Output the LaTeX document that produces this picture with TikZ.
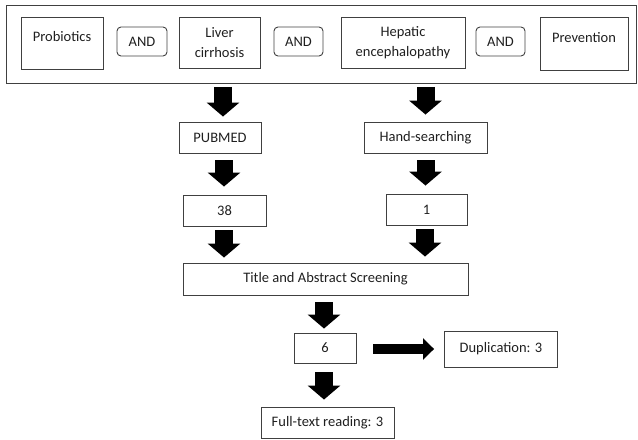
\documentclass[tikz,border=0pt]{standalone}
\usepackage{fontspec}
\setmainfont{Carlito}
\usetikzlibrary{arrows.meta,calc}
\begin{document}
\begin{tikzpicture}[x=1bp,y=-1bp,
  txt/.style={font=\fontsize{14.5bp}{20bp}\selectfont, text=black!88},
  box/.style={txt, draw=black!75, line width=0.9bp, inner sep=0pt, align=center},
  andbox/.style={box, rounded corners=4bp},
  lbl/.style={txt, inner sep=0pt},
  downarrow/.style={black, line width=18bp, -{Triangle[width=32bp,length=14bp]}},
  sidearrow/.style={black, line width=10bp, -{Triangle[width=21bp,length=11bp]}}
]
\useasboundingbox (0,0) rectangle (638,440);

% search terms
\node[box, line width=1bp, minimum width=629bp, minimum height=78bp] (outer) at (321.5,44.5) {};
\node[box, minimum width=82bp, minimum height=52bp] (prob) at (62,43) {};
\node[lbl] (probT) at (62,37) {Probiotics};
\node[andbox, minimum width=50bp, minimum height=29bp] (and1) at (142,41.5) {AND};
\node[box, minimum width=81bp, minimum height=51bp] (liver) at (219.5,42.5) {Liver\\cirrhosis};
\node[andbox, minimum width=49bp, minimum height=29bp] (and2) at (298.5,41.5) {AND};
\node[box, minimum width=124bp, minimum height=51bp] (hep) at (403,42.5) {Hepatic\\encephalopathy};
\node[andbox, minimum width=49bp, minimum height=29bp] (and3) at (500.5,41.5) {AND};
\node[box, minimum width=88bp, minimum height=53bp] (prev) at (584,43.5) {};
\node[lbl] (prevT) at (584,38) {Prevention};

% flow
\node[box, minimum width=82bp, minimum height=31bp] (pub) at (220,137.5) {PUBMED};
\node[box, minimum width=123bp, minimum height=31bp] (hand) at (425.5,137.5) {Hand-searching};
\node[box, minimum width=83bp, minimum height=31bp] (n38) at (224.5,210.5) {38};
\node[box, minimum width=81bp, minimum height=31bp] (n1) at (426.5,209.5) {1};
\node[box, minimum width=285bp, minimum height=32bp] (title) at (325.5,279) {Title and Abstract Screening};
\node[box, minimum width=62bp, minimum height=30bp] (n6) at (325,348) {6};
\node[box, minimum width=113bp, minimum height=36bp] (dup) at (501,349) {Duplication: 3};
\node[box, minimum width=133bp, minimum height=31bp] (full) at (327.5,422.5) {Full-text reading: 3};

% arrows
\draw[downarrow] ($(outer.south -| pub.north)+(3,3)$) -- ($(pub.north)+(3,-5)$);
\draw[downarrow] ($(outer.south -| hand.north)+(0,3)$) -- ($(hand.north)+(0,-7)$);
\draw[downarrow] ($(pub.south)+(4,7)$) -- ($(n38.north)+(-0.5,-8)$);
\draw[downarrow] ($(hand.south)+(0,7)$) -- ($(n1.north)+(-1,-8)$);
\draw[downarrow] ($(n38.south)+(-0.5,4)$) -- ($(title.north -| n38.south)+(-0.5,-5)$);
\draw[downarrow] ($(n1.south)+(-1.5,4)$) -- ($(title.north -| n1.south)+(-1.5,-6)$);
\draw[downarrow] ($(title.south)+(-1.5,7)$) -- ($(n6.north)+(-1,-4)$);
\draw[downarrow] ($(n6.south)+(-1,9)$) -- ($(n6.south |- full.north)+(-1,-7)$);
\draw[sidearrow] ($(n6.east)+(17,1)$) -- ($(dup.west)+(-10,0)$);
\end{tikzpicture}
\end{document}
